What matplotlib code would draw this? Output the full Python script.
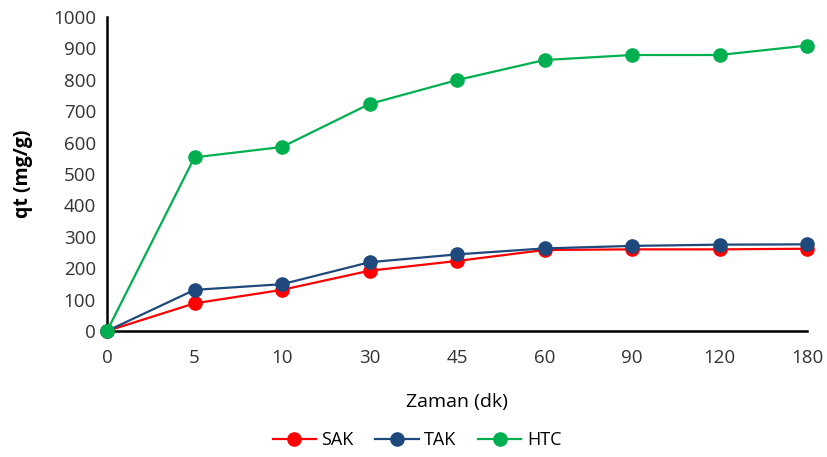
import matplotlib.pyplot as plt

zaman = ['0', '5', '10', '30', '45', '60', '90', '120', '180']
sak = [0, 88, 131, 192, 223, 258, 260, 260, 262]
tak = [0, 131, 149, 219, 244, 263, 271, 275, 276]
htc = [0, 553, 586, 723, 799, 863, 879, 879, 909]

plt.rcParams['font.family'] = ['Open Sans', 'DejaVu Sans']

fig = plt.figure(figsize=(8.27, 4.57), dpi=100)
ax = fig.add_axes([107 / 827, 1 - 331 / 457, 700 / 827, 314 / 457])

x = range(len(zaman))
ax.plot(x, sak, 'o-', color='#FF0000', lw=1.6, ms=9.5, label='SAK', clip_on=False, zorder=3)
ax.plot(x, tak, 'o-', color='#1F497D', lw=1.6, ms=9.5, label='TAK', clip_on=False, zorder=4)
ax.plot(x, htc, 'o-', color='#00B050', lw=1.6, ms=9.5, label='HTC', clip_on=False, zorder=5)

ax.set_xlim(0, len(zaman) - 1)
ax.set_ylim(0, 1000)
ax.set_xticks(list(x))
ax.set_xticklabels(zaman)
ax.set_yticks(range(0, 1001, 100))
ax.tick_params(axis='both', length=0, labelsize=13.5, colors='#333333', pad=8)
ax.tick_params(axis='x', pad=13)

for side in ['top', 'right']:
    ax.spines[side].set_visible(False)
ax.spines['left'].set_linewidth(1.8)
ax.spines['bottom'].set_linewidth(1.8)

ax.set_ylabel('qt (mg/g)', fontsize=14, fontweight='bold', labelpad=14)
ax.set_xlabel('Zaman (dk)', fontsize=14, labelpad=19)

ax.legend(loc='center', bbox_to_anchor=(0.443, -0.347), ncol=3, frameon=False,
          fontsize=13, handlelength=2.4, columnspacing=1.2, handletextpad=0.3)

fig.savefig('out.png', dpi=100)
